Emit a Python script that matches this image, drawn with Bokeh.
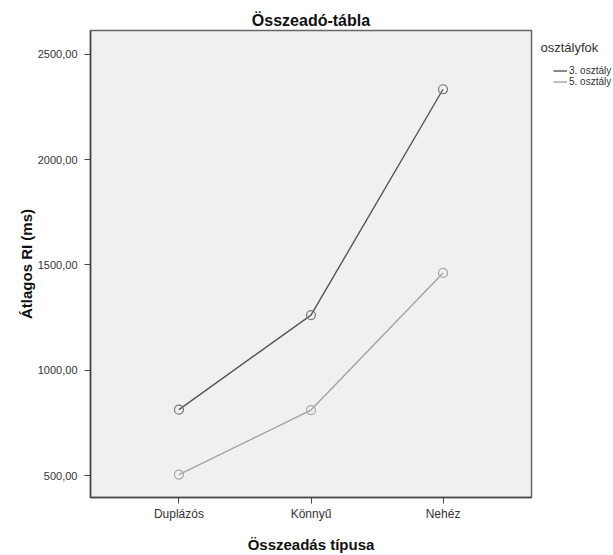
from bokeh.plotting import figure
from bokeh.layouts import row
from bokeh.models import Range1d, Legend, LegendItem, Label
from bokeh.embed import file_html
from bokeh.resources import INLINE

categories = ["Duplázós", "Könnyű", "Nehéz"]
grade3 = [813, 1262, 2334]
grade5 = [505, 811, 1462]
series_names = ["3. osztály", "5. osztály"]
legend_title = "osztályfok"
y_ticks = [500, 1000, 1500, 2000, 2500]
y_tick_labels = ["500,00", "1000,00", "1500,00", "2000,00", "2500,00"]

FONT = "Liberation Sans"
xs = list(range(len(categories)))
c3 = "#555555"
c5 = "#a3a3a3"

p = figure(width=533, height=555, output_backend="svg", toolbar_location=None,
           x_range=Range1d(-0.67, len(categories) - 1 + 0.67),
           y_range=Range1d(396, 2613),
           min_border_left=90, min_border_right=2, min_border_top=30, min_border_bottom=56)

p.title.text = "Összeadó-tábla"
p.title.align = "center"
p.title.text_font = FONT
p.title.text_font_size = "16px"
p.title.text_font_style = "bold"
p.title.text_color = "#111111"
p.title.standoff = 4

p.background_fill_color = "#f0f0f0"
p.border_fill_color = "white"
p.outline_line_color = "#666666"
p.outline_line_width = 1.5
p.xgrid.visible = False
p.ygrid.visible = False

p.xaxis.ticker = xs
p.xaxis.major_label_overrides = {i: c for i, c in zip(xs, categories)}
p.yaxis.ticker = y_ticks
p.yaxis.major_label_overrides = {t: l for t, l in zip(y_ticks, y_tick_labels)}

for ax in (p.xaxis[0], p.yaxis[0]):
    ax.minor_tick_line_color = None
    ax.major_tick_in = 0
    ax.major_tick_out = 6
    ax.major_tick_line_color = "#444444"
    ax.axis_line_color = "#444444"
    ax.axis_line_width = 1.5
    ax.major_label_text_font = FONT
    ax.major_label_text_color = "#333333"
    ax.axis_label_text_font = FONT
    ax.axis_label_text_font_size = "15px"
    ax.axis_label_text_font_style = "bold"
    ax.axis_label_text_color = "#111111"

p.xaxis.major_label_text_font_size = "12px"
p.yaxis.major_label_text_font_size = "11px"
p.xaxis.major_label_standoff = 3
p.yaxis.major_label_standoff = 7

p.xaxis.axis_label = "Összeadás típusa"
p.yaxis.axis_label = "Átlagos RI (ms)"
p.xaxis.axis_label_standoff = 12
p.yaxis.axis_label_standoff = 0

p.line(xs, grade3, line_color=c3, line_width=1.4)
p.scatter(xs, grade3, size=9, marker="circle", line_color="#777777", fill_color=None, line_width=1.2)
p.line(xs, grade5, line_color=c5, line_width=1.4)
p.scatter(xs, grade5, size=9, marker="circle", line_color="#a8a8a8", fill_color=None, line_width=1.2)

# legend panel as a separate, axis-less figure to the right of the plot
q = figure(width=80, height=555, output_backend="svg", toolbar_location=None,
           x_range=Range1d(0, 1), y_range=Range1d(0, 1),
           x_axis_type=None, y_axis_type=None, min_border=0)
q.outline_line_color = None
q.xgrid.visible = False
q.ygrid.visible = False
q.background_fill_color = "white"
q.border_fill_color = "white"
d3 = q.line([5, 6], [5, 5], line_color=c3, line_width=1.4)
d5 = q.line([5, 6], [5, 5], line_color=c5, line_width=1.4)

legend = Legend(items=[LegendItem(label=series_names[0], renderers=[d3]),
                       LegendItem(label=series_names[1], renderers=[d5])],
                location=(20, 410), padding=0, spacing=0, margin=0,
                glyph_width=14, glyph_height=11, label_height=11, label_standoff=2,
                label_text_font=FONT, label_text_font_size="10px", label_text_color="#333333",
                border_line_color=None, background_fill_alpha=0)
q.add_layout(legend)
q.add_layout(Label(x=7, y=450, x_units="screen", y_units="screen", text=legend_title,
                   text_font=FONT, text_font_size="13px", text_color="#333333",
                   text_baseline="middle"))

layout = row(p, q)
open("out.html", "w").write(file_html(layout, INLINE))
